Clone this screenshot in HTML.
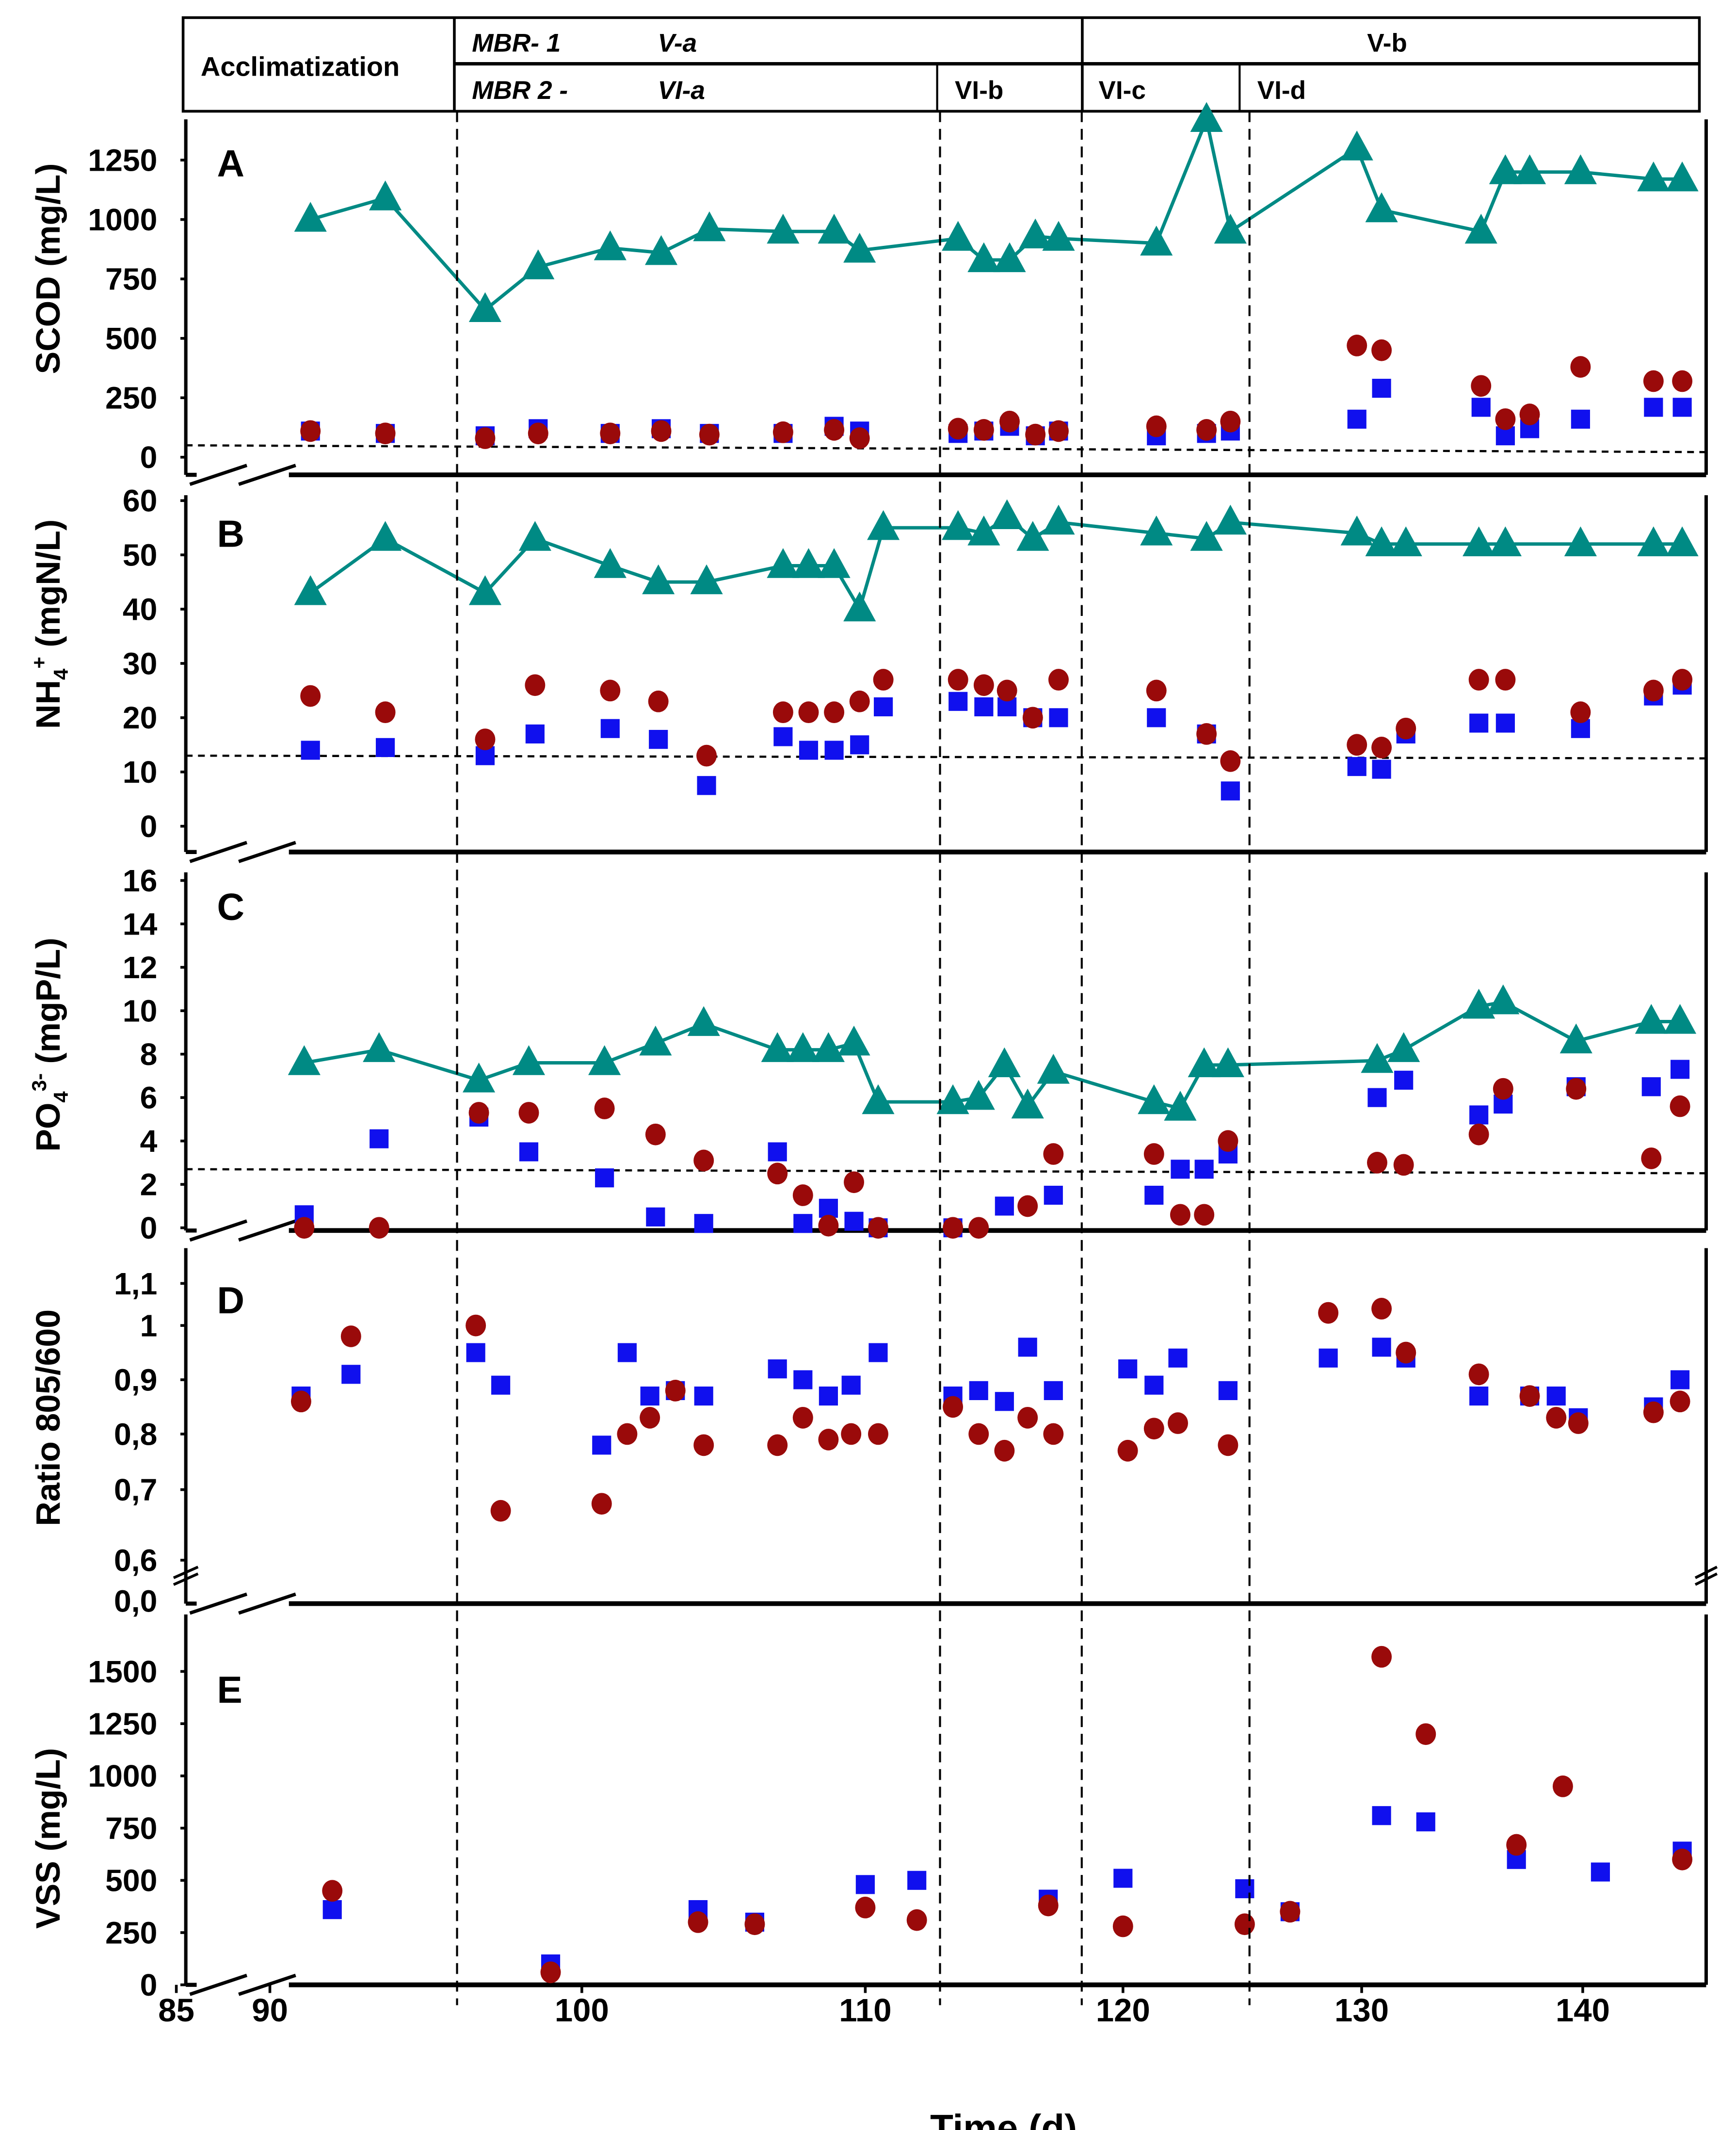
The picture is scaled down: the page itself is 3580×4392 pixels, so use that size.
<!DOCTYPE html>
<html><head><meta charset="utf-8"><style>
html,body{margin:0;padding:0;background:#fff}
svg{display:block}
text{font-family:"Liberation Sans",Arial,sans-serif;font-weight:bold;fill:#000}
</style></head><body>
<svg id="chart" xmlns="http://www.w3.org/2000/svg" width="3580" height="4392" viewBox="0 0 1280 1570" preserveAspectRatio="none">
<g id="header">
<rect x="135" y="13" width="1118" height="69" fill="none" stroke="#000" stroke-width="2"/>
<line x1="335" y1="13" x2="335" y2="82" stroke="#000" stroke-width="2"/>
<line x1="798" y1="13" x2="798" y2="82" stroke="#000" stroke-width="2"/>
<line x1="335" y1="47" x2="1253" y2="47" stroke="#000" stroke-width="2.5"/>
<line x1="691" y1="47" x2="691" y2="82" stroke="#000" stroke-width="1.5"/>
<line x1="914" y1="47" x2="914" y2="82" stroke="#000" stroke-width="1.5"/>
<text x="148" y="56" font-size="20">Acclimatization</text>
<text x="348" y="38" font-size="19" font-style="italic">MBR-  1</text>
<text x="485" y="38" font-size="19" font-style="italic">V-a</text>
<text x="1008" y="38" font-size="19">V-b</text>
<text x="348" y="73" font-size="19" font-style="italic">MBR 2 -</text>
<text x="485" y="73" font-size="19" font-style="italic">VI-a</text>
<text x="704" y="73" font-size="19">VI-b</text>
<text x="810" y="73" font-size="19">VI-c</text>
<text x="927" y="73" font-size="19">VI-d</text>
</g>
<g id="plot"></g>
</svg>
<script>
// x axis ticks (days) and phase lines
const xTickDays = [85, 90, 100, 110, 120, 130, 140];
const xTickLabels = ["85", "90", "100", "110", "120", "130", "140"];
const phaseDays = [96.0, 112.9, 118.4, 125.3];

// Panel A: SCOD
const aTriDays = [91.3,93.7,96.9,98.6,101.0,102.8,104.5,107.1,108.9,109.8,113.6,114.6,115.6,116.6,117.5,121.4,123.5,124.5,129.8,130.9,135.4,136.5,137.6,139.9,143.2,144.5];
const aTri = [1000,1090,620,800,880,860,960,950,950,870,920,830,830,930,920,900,1420,950,1300,1040,950,1200,1200,1200,1170,1170];
const aCir = [110,100,80,100,100,110,95,105,115,80,120,115,150,95,110,130,115,150,470,450,300,160,180,380,320,320];
const aSq = [110,100,90,120,100,120,100,100,130,110,100,110,130,90,110,90,100,110,160,290,210,90,120,160,210,210];
const aRef = 50;

// Panel B: NH4
const bDays = [91.3,93.7,96.9,98.5,101.0,102.7,104.4,107.1,108.0,108.9,109.8,110.7,113.6,114.6,115.5,116.5,117.5,121.4,123.5,124.5,129.8,130.9,132.0,135.3,136.5,139.9,143.2,144.5];
const bTri = [43,53,43,53,48,45,45,48,48,48,40,55,55,54,57,53,56,54,53,56,54,52,52,52,52,52,52,52];
const bCir = [24,21,16,26,25,23,13,21,21,21,23,27,27,26,25,20,27,25,17,12,15,14.5,18,27,27,21,25,27];
const bSq = [14,14.5,13,17,18,16,7.5,16.5,14,14,15,22,23,22,22,20,20,20,17,6.5,11,10.5,17,19,19,18,24,26];
const bRef = 13;

// Panel C: PO4
const cDays = [91.1,93.5,96.7,98.3,100.8,102.6,104.3,106.9,107.8,108.7,109.6,110.5,113.4,114.4,115.4,116.3,117.3,121.3,122.4,123.4,124.4,130.7,131.9,135.3,136.4,139.7,143.1,144.4];
const cTri = [7.6,8.2,6.8,7.6,7.6,8.5,9.4,8.2,8.2,8.2,8.5,5.8,5.8,6.0,7.5,5.6,7.2,5.8,5.5,7.5,7.5,7.7,8.2,10.2,10.4,8.6,9.5,9.5];
const cCir = [0,0,5.3,5.3,5.5,4.3,3.1,2.5,1.5,0.1,2.1,0,0,0,null,1.0,3.4,3.4,0.6,0.6,4.0,3.0,2.9,4.3,6.4,6.4,3.2,5.6];
const cSq = [0.6,4.1,5.1,3.5,2.3,0.5,0.2,3.5,0.2,0.9,0.3,0,0,null,1.0,null,1.5,1.5,2.7,2.7,3.4,6.0,6.8,5.2,5.7,6.5,6.5,7.3];
const cRef = 2.7;

// Panel D: Ratio 805/600
const dDays = [91.0,92.6,96.6,97.4,100.7,101.6,102.4,103.3,104.3,106.9,107.8,108.7,109.5,110.5,113.4,114.4,115.4,116.3,117.3,120.2,121.3,122.3,124.4,128.6,130.9,132.0,135.3,137.6,138.8,139.8,143.2,144.4];
const dCir = [0.86,0.98,1.0,0.67,0.68,0.80,0.83,0.88,0.78,0.78,0.83,0.79,0.80,0.80,0.85,0.80,0.77,0.83,0.80,0.77,0.81,0.82,0.78,1.03,1.04,0.95,0.91,0.87,0.83,0.82,0.84,0.86];
const dSq = [0.87,0.91,0.95,0.89,0.78,0.95,0.87,0.88,0.87,0.92,0.90,0.87,0.89,0.95,0.87,0.88,0.86,0.96,0.88,0.92,0.89,0.94,0.88,0.94,0.96,0.94,0.87,0.87,0.87,0.83,0.85,0.90];
const dTicks = [0.6,0.7,0.8,0.9,1.0,1.1];
const dTickLabels = ["0,6","0,7","0,8","0,9","1","1,1"];

// Panel E: VSS
const eDays = [92.0,99.0,104.1,106.1,110.0,112.0,117.1,120.0,125.1,127.0,130.9,132.9,137.0,139.1,140.8,144.5];
const eCir = [450,60,300,290,370,310,380,280,290,350,1570,1200,670,950,null,600];
const eSq = [360,100,360,300,480,500,410,510,460,350,810,780,600,null,540,640];

const NS = "http://www.w3.org/2000/svg";
const plot = document.getElementById("plot");
const xTickPx = [130,199,429,638,828,1004,1167];
function X(d){
  for(let i=0;i<xTickDays.length-1;i++){
    if(d<=xTickDays[i+1]) return xTickPx[i]+(d-xTickDays[i])*(xTickPx[i+1]-xTickPx[i])/(xTickDays[i+1]-xTickDays[i]);
  }
  const n=xTickDays.length-1;
  return xTickPx[n]+(d-xTickDays[n])*16.3;
}
function mk(tag, attrs, parent){
  const e=document.createElementNS(NS,tag);
  for(const k in attrs) e.setAttribute(k,attrs[k]);
  (parent||plot).appendChild(e);
  return e;
}
const TEAL="#008a84", RED="#9a0a0a", BLUE="#1010ee";

function axisFrame(name, top, bottom){
  const g=mk("g",{});
  
  
  mk("line",{x1:137,y1:top,x2:137,y2:bottom,stroke:"#000","stroke-width":2.5},g);
  mk("line",{x1:1258,y1:top,x2:1258,y2:bottom,stroke:"#000","stroke-width":2.5},g);
  mk("line",{x1:137,y1:bottom,x2:145,y2:bottom,stroke:"#000","stroke-width":3},g);
  mk("line",{x1:213,y1:bottom,x2:1258,y2:bottom,stroke:"#000","stroke-width":3.5},g);
  mk("line",{x1:140,y1:bottom+7,x2:182,y2:bottom-7,stroke:"#000","stroke-width":2.5},g);
  mk("line",{x1:176,y1:bottom+7,x2:218,y2:bottom-7,stroke:"#000","stroke-width":2.5},g);
  return g;
}
function yTicks(g, vals, labels, Y){
  vals.forEach((v,i)=>{
    const y=Y(v);
    mk("line",{x1:133,y1:y,x2:137,y2:y,stroke:"#000","stroke-width":2},g);
    const t=mk("text",{x:116,y:y+8,"font-size":23,"text-anchor":"end"},g);
    t.textContent=labels[i];
    
    
  });
}
function yTitle(txt, cy, name, sub){
  const t=mk("text",{x:0,y:0,"font-size":25,"text-anchor":"middle",transform:`translate(44,${cy}) rotate(-90)`});
  
  
  if(sub){
    const a=document.createElementNS(NS,"tspan"); a.textContent=sub[0]; t.appendChild(a);
    const b=document.createElementNS(NS,"tspan"); b.setAttribute("font-size","15"); b.setAttribute("dy","6"); b.textContent=sub[1]; t.appendChild(b);
    const c=document.createElementNS(NS,"tspan"); c.setAttribute("font-size","15"); c.setAttribute("dy","-16"); c.textContent=sub[2]; t.appendChild(c);
    const d=document.createElementNS(NS,"tspan"); d.setAttribute("dy","10"); d.textContent=sub[3]; t.appendChild(d);
  } else t.textContent=txt;
}
function letter(l, y){
  const t=mk("text",{x:160,y:y,"font-size":28});
  t.textContent=l;
  
  
}
function tri(days, vals, Y, name, withLine){
  const g=mk("g",{});
  
  
  if(withLine){
    const pts=[]; days.forEach((d,i)=>{ if(vals[i]!=null) pts.push(X(d).toFixed(1)+","+Y(vals[i]).toFixed(1)); });
    const pl=mk("polyline",{points:pts.join(" "),fill:"none",stroke:TEAL,"stroke-width":2.5},g);
    
    
  }
  days.forEach((d,i)=>{
    if(vals[i]==null) return;
    const x=X(d), y=Y(vals[i]);
    const p=mk("polygon",{points:`${x},${y-13} ${x-12},${y+9} ${x+12},${y+9}`,fill:TEAL},g);
    
    
  });
}
function sq(days, vals, Y, name){
  const g=mk("g",{});
  
  
  days.forEach((d,i)=>{
    if(vals[i]==null) return;
    const r=mk("rect",{x:X(d)-7,y:Y(vals[i])-7,width:14,height:14,fill:BLUE},g);
    
    
  });
}
function cir(days, vals, Y, name){
  const g=mk("g",{});
  
  
  days.forEach((d,i)=>{
    if(vals[i]==null) return;
    const c=mk("ellipse",{cx:X(d),cy:Y(vals[i]),rx:7.5,ry:8,fill:RED},g);
    
    
  });
}
function refLine(v, Y, name, slope){
  const l=mk("line",{x1:137,y1:Y(v),x2:1258,y2:Y(v)+slope,stroke:"#000","stroke-width":1.6,"stroke-dasharray":"5,4"});
  
  
}

// Panel A
const YA=v=>337-v*219/1250;
let g=axisFrame("panel-a",88,350);
yTicks(g,[0,250,500,750,1000,1250],["0","250","500","750","1000","1250"],YA);
yTitle("SCOD (mg/L)",198,"y-axis-title-scod");
letter("A",130);
refLine(aRef,YA,"scod-reference-line",5);
sq(aTriDays,aSq,YA,"scod-squares");
cir(aTriDays,aCir,YA,"scod-circles");
tri(aTriDays,aTri,YA,"scod-triangles",true);

// Panel B
const YB=v=>609-v*4;
g=axisFrame("panel-b",365,628);
yTicks(g,[0,10,20,30,40,50,60],["0","10","20","30","40","50","60"],YB);
yTitle("",460,"y-axis-title-nh4",["NH","4","+"," (mgN/L)"]);
letter("B",403);
refLine(bRef,YB,"nh4-reference-line",2);
sq(bDays,bSq,YB,"nh4-squares");
cir(bDays,bCir,YB,"nh4-circles");
tri(bDays,bTri,YB,"nh4-triangles",true);

// Panel C
const YC=v=>905-v*16;
g=axisFrame("panel-c",643,907);
yTicks(g,[0,2,4,6,8,10,12,14,16],["0","2","4","6","8","10","12","14","16"],YC);
yTitle("",770,"y-axis-title-po4",["PO","4","3-"," (mgP/L)"]);
letter("C",678);
refLine(cRef,YC,"po4-reference-line",3);
sq(cDays,cSq,YC,"po4-squares");
cir(cDays,cCir,YC,"po4-circles");
tri(cDays,cTri,YC,"po4-triangles",true);

// Panel D
const dTickPx=[1150,1098,1057,1017,977,946];
const YD=v=>{
  for(let i=0;i<dTicks.length-1;i++){ if(v<=dTicks[i+1]) return dTickPx[i]+(v-dTicks[i])*(dTickPx[i+1]-dTickPx[i])/(dTicks[i+1]-dTicks[i]); }
  return dTickPx[5]+(v-1.1)*(dTickPx[5]-dTickPx[4])/0.1;
};
g=axisFrame("panel-d",920,1182);
yTicks(g,dTicks,dTickLabels,YD);
{
  const t=mk("text",{x:116,y:1188,"font-size":23,"text-anchor":"end"},g); t.textContent="0,0";
  
  
  mk("line",{x1:128,y1:1163,x2:146,y2:1155,stroke:"#000","stroke-width":2},g);
  mk("line",{x1:128,y1:1168,x2:146,y2:1160,stroke:"#000","stroke-width":2},g);
  mk("line",{x1:1250,y1:1163,x2:1266,y2:1155,stroke:"#000","stroke-width":2},g);
  mk("line",{x1:1250,y1:1168,x2:1266,y2:1160,stroke:"#000","stroke-width":2},g);
}
yTitle("Ratio 805/600",1045,"y-axis-title-ratio");
letter("D",968);
sq(dDays,dSq,YD,"ratio-squares");
cir(dDays,dCir,YD,"ratio-circles");

// Panel E
const YE=v=>1463-v*231/1500;
g=axisFrame("panel-e",1190,1463);
yTicks(g,[0,250,500,750,1000,1250,1500],["0","250","500","750","1000","1250","1500"],YE);
yTitle("VSS (mg/L)",1355,"y-axis-title-vss");
letter("E",1255);
sq(eDays,eSq,YE,"vss-squares");
cir(eDays,eCir,YE,"vss-circles");

// phase dashed lines
phaseDays.forEach(d=>{
  const l=mk("line",{x1:X(d),y1:82,x2:X(d),y2:1478,stroke:"#000","stroke-width":1.5,"stroke-dasharray":"8,5"});
  
  
});

// x ticks
xTickDays.forEach((d,i)=>{
  mk("line",{x1:X(d),y1:1463,x2:X(d),y2:1469,stroke:"#000","stroke-width":2});
  const t=mk("text",{x:X(d),y:1490,"font-size":24,"text-anchor":"middle"});
  t.textContent=xTickLabels[i];
  
  
});
const xt=mk("text",{x:740,y:1578,"font-size":28,"text-anchor":"middle"});
xt.textContent="Time (d)";


</script>
</body></html>
